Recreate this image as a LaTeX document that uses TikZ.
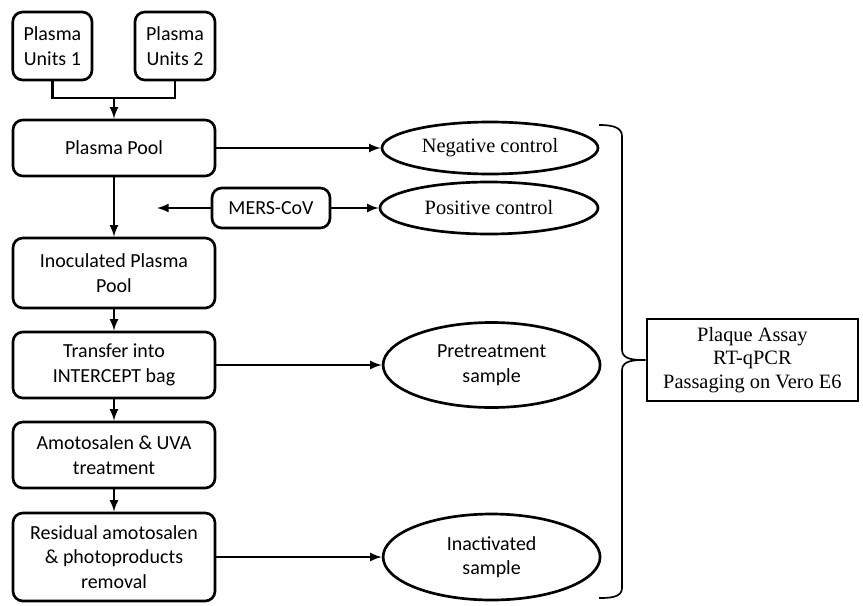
\documentclass[tikz,border=0pt]{standalone}
\usepackage{fontspec}
\setmainfont{Carlito}
\newfontfamily\timesfont{Liberation Serif}
\usetikzlibrary{shapes.geometric}

\begin{document}
\begin{tikzpicture}[
	step box/.style={draw, line width=1.9pt, rounded corners=7pt, align=center, inner sep=2pt, font=\fontsize{14.2}{17.5}\selectfont},
	sample/.style={draw, ellipse, line width=1.9pt, align=center, inner sep=0pt, font=\fontsize{14.2}{17.5}\selectfont},
	arr/.style={line width=1.8pt, -latex},
	link/.style={line width=1.8pt}
]
	\useasboundingbox (0,0) rectangle (21.575,-15.125);

	% Plasma units and the pool
	\node[step box, minimum width=1.98cm, minimum height=1.7cm] (u1) at (1.31,-1.15) {Plasma\\Units 1};
	\node[step box, minimum width=2cm, minimum height=1.7cm] (u2) at (4.375,-1.15) {Plasma\\Units 2};
	\node[step box, minimum width=5.05cm, minimum height=1.4cm] (pool) at (2.85,-3.7) {Plasma Pool};
	\coordinate (join) at (2.85,-2.45);
	\draw[link] (u1.south) |- (join) -| (u2.south);
	\draw[arr] (join) -- (pool.north);

	% Main process chain
	\node[step box, minimum width=5.05cm, minimum height=1.75cm] (inoc) at (2.85,-6.825) {Inoculated Plasma\\Pool};
	\node[step box, minimum width=5.05cm, minimum height=1.65cm] (transfer) at (2.85,-9.125) {Transfer into\\INTERCEPT bag};
	\node[step box, minimum width=5.05cm, minimum height=1.65cm] (amoto) at (2.85,-11.375) {Amotosalen \& UVA\\treatment};
	\node[step box, minimum width=5.05cm, minimum height=2.2cm] (resid) at (2.85,-13.925) {Residual amotosalen\\\& photoproducts\\removal};
	\draw[arr] (pool) -- (inoc);
	\draw[arr] (inoc) -- (transfer);
	\draw[arr] (transfer) -- (amoto);
	\draw[arr] (amoto) -- (resid);

	% Virus spike and controls
	\node[step box, minimum width=2.95cm, minimum height=1cm] (mers) at (6.775,-5.2) {MERS-CoV};
	\coordinate (spike) at (3.925,-5.2);
	\draw[arr] (mers) -- (spike);
	\node[sample, minimum width=5.4cm, minimum height=1.3cm, font=\timesfont\fontsize{14.5}{17}\selectfont] (neg) at (12.25,-3.7) {Negative control};
	\node[sample, minimum width=5.45cm, minimum height=1.3cm, font=\timesfont\fontsize{14.5}{17}\selectfont] (pos) at (12.225,-5.2) {Positive control};
	\node[sample, minimum width=5.425cm, minimum height=2.125cm] (pre) at (12.29,-9.125) {Pretreatment\\sample};
	\node[sample, minimum width=5.425cm, minimum height=2.15cm] (inact) at (12.29,-13.925) {Inactivated\\sample};
	\draw[arr] (pool) -- (neg);
	\draw[arr] (mers) -- (pos);
	\draw[arr] (transfer) -- (pre);
	\draw[arr] (resid) -- (inact);

	% Assays on all samples
	\node[draw, line width=1.9pt, align=center, minimum width=5.275cm, minimum height=2.05cm, font=\timesfont\fontsize{14.5}{16.5}\selectfont] (assay) at (18.81,-9.0) {Plaque Assay\\RT-qPCR\\Passaging on Vero E6};
	\coordinate (btop) at (14.975,-3.125);
	\coordinate (bbot) at (14.975,-14.95);
	\draw[line width=1.2pt] (btop) to[out=0,in=90] (15.55,-3.4) -- (15.55,-8.75)
		to[out=-90,in=180] (assay.west) to[out=180,in=90] (15.55,-9.25)
		-- (15.55,-14.7) to[out=-90,in=0] (bbot);
\end{tikzpicture}
\end{document}
